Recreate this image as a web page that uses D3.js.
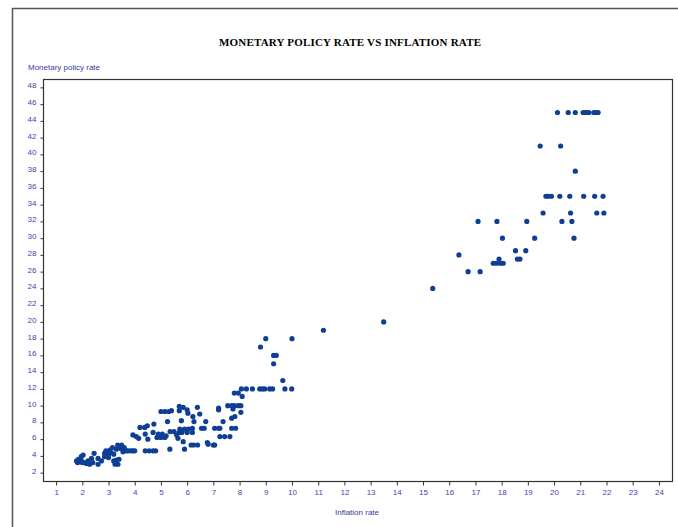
<!DOCTYPE html>
<html>
<head>
<meta charset="utf-8">
<script src="https://cdn.jsdelivr.net/npm/d3@7"></script>
<style>
  body { margin: 0; background: #fff; }
  .tick text { font-family: "Liberation Sans", Arial, sans-serif; font-size: 8px; fill: #4444a8; }
  .tick line { stroke: #333; }
</style>
</head>
<body>
<div id="plotContainer"></div>
<script>
// inflation rate (x) and monetary policy rate (y)
const inflation = [
  1.78,1.82,1.85,1.9,1.95,1.96,2.03,2.0,2.1,2.16,2.22,2.28,2.35,2.45,2.4,2.6,2.6,2.73,2.85,2.85,
  2.9,3.0,3.0,3.05,3.1,3.15,3.2,3.2,3.25,3.3,3.3,3.36,3.4,3.35,3.45,3.5,3.55,3.6,3.68,3.75,3.85,3.93,4.0,
  4.2,4.38,4.48,4.73,3.93,4.06,4.15,4.4,4.5,4.7,4.85,4.9,5.0,5.05,5.15,5.2,5.35,5.5,5.25,5.0,5.15,5.3,5.4,
  5.6,5.65,5.7,5.72,5.78,5.7,5.7,5.85,5.85,5.9,5.9,5.8,6.0,6.03,6.0,6.05,6.15,6.2,6.2,6.22,6.25,6.26,6.39,
  6.4,6.48,6.55,6.65,6.71,6.77,6.8,4.4,4.55,4.7,4.8,5.34,
  7.0,7.05,7.05,7.2,7.25,7.2,7.2,7.25,7.37,7.43,7.55,7.63,7.7,7.7,7.7,7.75,7.8,7.82,7.85,7.95,8.05,8.05,
  7.8,7.95,8.1,
  8.07,8.26,8.49,8.77,8.87,8.96,9.15,9.26,9.73,9.99,
  8.8,9.0,10.0,9.3,9.4,9.3,9.65,11.2,13.5,15.37,
  16.37,16.72,17.18,17.1,17.68,17.8,17.95,18.06,17.9,17.82,18.03,18.53,18.6,18.7,18.92,18.96,19.26,19.47,
  19.58,19.69,19.78,19.9,20.13,20.22,20.25,20.3,20.54,20.6,20.63,20.68,20.76,20.81,20.81,21.11,21.13,21.19,
  21.24,21.33,21.52,21.55,21.6,21.63,21.68,21.87,21.9
];
const policyRate = [
  3.4,3.2,3.6,3.3,3.5,3.9,4.1,3.2,3.2,3.1,3.4,3.0,3.7,4.3,3.2,3.7,3.0,3.4,3.9,4.3,
  4.6,4.2,3.8,4.7,4.4,5.0,4.2,3.4,3.0,3.5,4.8,3.0,3.6,5.3,4.9,5.3,4.5,5.0,4.6,4.6,4.6,4.6,4.6,
  7.4,7.4,7.6,7.8,6.5,6.3,6.1,6.6,6.0,6.8,6.2,6.6,6.2,6.6,6.2,6.4,6.9,6.9,8.1,9.3,9.3,9.3,9.4,
  6.5,6.1,6.8,7.2,8.2,9.4,9.9,9.8,5.7,4.8,7.2,6.8,9.5,9.1,6.8,7.2,5.3,6.8,7.3,8.7,5.3,8.1,9.8,
  5.3,9.0,7.3,7.3,8.1,5.6,5.4,4.6,4.6,4.6,4.6,4.8,
  5.3,5.3,7.3,7.3,7.3,9.7,9.5,6.3,8.1,6.3,10,6.3,10,8.5,7.3,9.6,10,8.7,7.3,10,10,9.2,
  11.5,11.5,11.1,
  12,12,12,12,12,12,12,12,12,12,
  17,18,18,16,16,15,13,19,20,24,
  28,26,26,32,27,27,27,27,27.5,32,30,28.5,27.5,27.5,28.5,32,30,41,
  33,35,35,35,45,35,41,32,45,35,33,32,30,45,38,45,35,45,
  45,45,45,35,45,33,45,35,33
];
const xTicks = d3.range(1, 25);
const yTicks = d3.range(2, 50, 2);

const svgWidth = 678, svgHeight = 527;
const margin = {top: 79, right: 6, bottom: 46, left: 43};
const width = svgWidth - margin.left - margin.right;
const height = svgHeight - margin.top - margin.bottom;

const data = inflation.map((d, i) => [d, policyRate[i]]);

const x = d3.scaleLinear().domain([0.5, 24.5]).range([0, width]);
const y = d3.scaleLinear().domain([1, 49]).range([height, 0]);

const svg = d3.select("#plotContainer").append("svg")
  .attr("width", svgWidth)
  .attr("height", svgHeight);

// outer frame (left and top edges only are visible)
svg.append("path")
  .attr("d", "M12.5," + svgHeight + "V8.5H" + svgWidth)
  .attr("fill", "none")
  .attr("stroke", "#555")
  .attr("stroke-width", 1.5);

// title
svg.append("text")
  .attr("x", 350)
  .attr("y", 46)
  .attr("text-anchor", "middle")
  .style("font-family", "'Liberation Serif', 'Times New Roman', serif")
  .style("font-weight", "bold")
  .style("font-size", "11px")
  .attr("textLength", 262)
  .text("MONETARY POLICY RATE VS INFLATION RATE");

// y axis title
svg.append("text")
  .attr("x", 28)
  .attr("y", 70)
  .style("font-family", "'Liberation Sans', Arial, sans-serif")
  .style("font-size", "8px")
  .style("fill", "#3a3aa0")
  .text("Monetary  policy  rate");

const main = svg.append("g")
  .attr("transform", "translate(" + margin.left + "," + margin.top + ")");

// plot box
main.append("rect")
  .attr("x", 0.5).attr("y", 0.5)
  .attr("width", width).attr("height", height)
  .attr("fill", "none")
  .attr("stroke", "#333")
  .attr("stroke-width", 1.2);

// x axis
const xAxis = main.append("g")
  .attr("transform", "translate(0," + (height + 0.5) + ")")
  .call(d3.axisBottom(x).tickValues(xTicks).tickSize(4).tickPadding(4).tickFormat(d3.format("d")));
xAxis.select(".domain").remove();

// y axis
const yAxis = main.append("g")
  .attr("transform", "translate(0.5,0)")
  .call(d3.axisLeft(y).tickValues(yTicks).tickSize(3).tickPadding(4).tickFormat(d3.format("d")));
yAxis.select(".domain").remove();
yAxis.selectAll(".tick text").attr("dy", "0.05em");

// x axis title
svg.append("text")
  .attr("x", 357)
  .attr("y", 515)
  .attr("text-anchor", "middle")
  .style("font-family", "'Liberation Sans', Arial, sans-serif")
  .style("font-size", "8px")
  .style("fill", "#3a3aa0")
  .text("Inflation  rate");

// points
main.append("g").selectAll("circle")
  .data(data)
  .enter().append("circle")
  .attr("cx", d => x(d[0]))
  .attr("cy", d => y(d[1]))
  .attr("r", 2.6)
  .attr("fill", "#0e3f94");
</script>
</body>
</html>
